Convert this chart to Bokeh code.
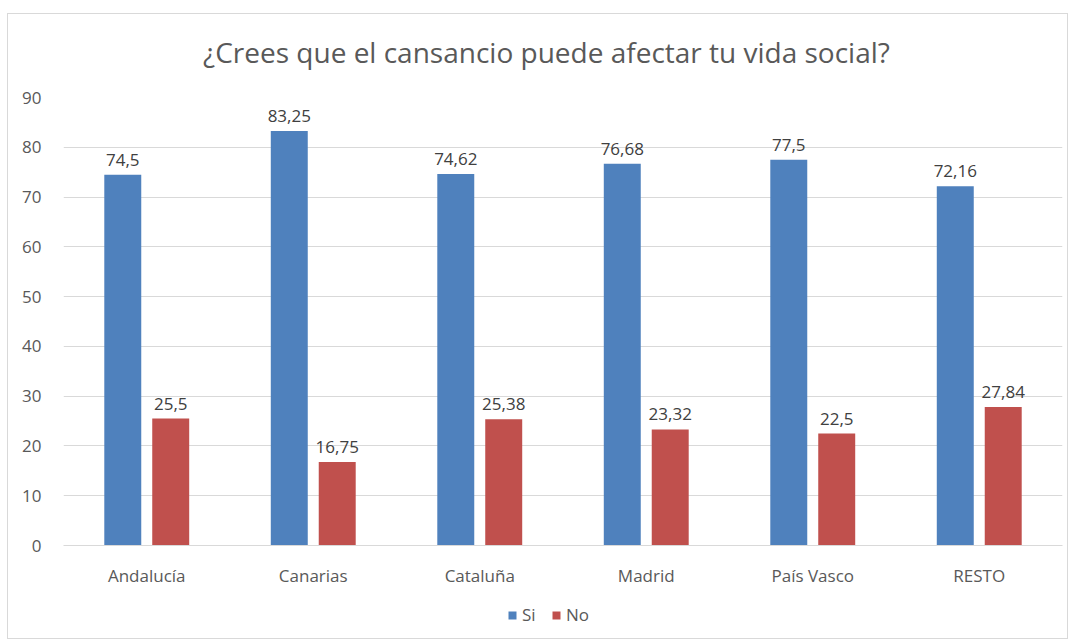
from bokeh.plotting import figure
from bokeh.layouts import column
from bokeh.models import ColumnDataSource, FactorRange, Legend, LegendItem, SingleIntervalTicker
from bokeh.transform import dodge
from bokeh.embed import file_html
from bokeh.resources import INLINE

title_text = "¿Crees que el cansancio puede afectar tu vida social?"
categories = ["Andalucía", "Canarias", "Cataluña", "Madrid", "País Vasco", "RESTO"]
si_values = [74.5, 83.25, 74.62, 76.68, 77.5, 72.16]
no_values = [25.5, 16.75, 25.38, 23.32, 22.5, 27.84]
series_names = ["Si", "No"]

def fmt(v):
    return f"{v:g}".replace(".", ",")

src = ColumnDataSource(dict(
    cat=categories,
    si=si_values,
    no=no_values,
    si_lab=[fmt(v) for v in si_values],
    no_lab=[fmt(v) for v in no_values],
))

FONT = "Open Sans"
BLUE = "#4f81bd"
RED = "#c0504d"
W = 1059

# title strip
tf = figure(width=W, height=73, x_range=(0, W), y_range=(0, 73), output_backend="svg",
            toolbar_location=None, min_border=0, x_axis_location=None, y_axis_location=None)
tf.grid.grid_line_color = None
tf.outline_line_color = None
tf.text(x=[512], y=[36], text=[title_text], text_align="center", text_baseline="alphabetic",
        text_font={"value": FONT}, text_font_size="28px", text_color="#595959")

# main chart
p = figure(x_range=FactorRange(*categories, range_padding=0), y_range=(0, 90),
           width=W, height=506, output_backend="svg", toolbar_location=None,
           min_border_left=55, min_border_right=5, min_border_top=10, min_border_bottom=48)
p.outline_line_color = None

r1 = p.vbar(x=dodge("cat", -0.144, range=p.x_range), top="si", width=0.222, source=src,
            fill_color=BLUE, line_color=None)
r2 = p.vbar(x=dodge("cat", 0.144, range=p.x_range), top="no", width=0.222, source=src,
            fill_color=RED, line_color=None)

p.text(x=dodge("cat", -0.144, range=p.x_range), y="si", text="si_lab", source=src,
       text_align="center", text_baseline="alphabetic", y_offset=-15,
       text_font_size="17px", text_color="#404040", text_font={"value": FONT})
p.text(x=dodge("cat", 0.144, range=p.x_range), y="no", text="no_lab", source=src,
       text_align="center", text_baseline="alphabetic", y_offset=-15,
       text_font_size="17px", text_color="#404040", text_font={"value": FONT})

p.yaxis.ticker = SingleIntervalTicker(interval=10)
p.yaxis.axis_line_color = None
p.yaxis.major_tick_line_color = None
p.yaxis.minor_tick_line_color = None
p.yaxis.major_label_standoff = 16
p.xaxis.axis_line_color = "#d9d9d9"
p.xaxis.major_tick_line_color = None
p.xaxis.minor_tick_line_color = None
p.xaxis.major_label_standoff = 12
for ax in (p.xaxis, p.yaxis):
    ax.major_label_text_font = FONT
    ax.major_label_text_font_size = "17px"
    ax.major_label_text_color = "#595959"

p.xgrid.grid_line_color = None
p.ygrid.grid_line_color = "#d9d9d9"

# legend strip below the chart
lf = figure(width=W, height=45, x_range=(0, 1), y_range=(0, 1), output_backend="svg",
            toolbar_location=None, min_border=0, x_axis_location=None, y_axis_location=None)
lf.grid.grid_line_color = None
lf.outline_line_color = None
l1 = lf.vbar(x=[-5], top=[-5], width=0.1, fill_color=BLUE, line_color=None)
l2 = lf.vbar(x=[-5], top=[-5], width=0.1, fill_color=RED, line_color=None)
legend = Legend(items=[LegendItem(label=series_names[0], renderers=[l1]),
                       LegendItem(label=series_names[1], renderers=[l2])],
                location=(444, 12), orientation="horizontal",
                glyph_width=10, glyph_height=10, label_text_font=FONT,
                label_text_font_size="17px", label_text_color="#595959",
                border_line_color=None, background_fill_alpha=0,
                padding=0, spacing=9, label_standoff=5, margin=0)
lf.add_layout(legend, "center")

layout = column(tf, p, lf, spacing=0)
layout.margin = (13, 0, 0, 7)
layout.styles = {"border": "1px solid #d9d9d9"}

open("out.html", "w").write(file_html(layout, INLINE))
